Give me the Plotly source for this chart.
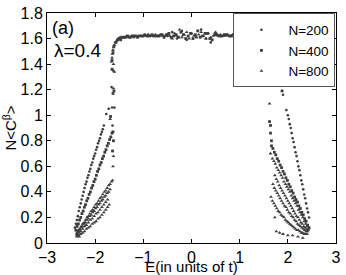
import plotly.graph_objects as go

# ---------------- data ----------------
# N=200 : dotted branches, plateau, scattered points
n200_left_E = [-2.42,-2.40,-2.38,-2.36,-2.34,-2.32,-2.30,-2.28,-2.26,-2.24,-2.22,-2.20,-2.18,-2.16,-2.14,-2.12,
               -2.10,-2.08,-2.06,-2.04,-2.02,-2.00,-1.98,-1.96,-1.94,-1.92,-1.90,-1.88,-1.86,-1.84,-1.82]
n200_left_C = [0.12,0.15,0.18,0.21,0.25,0.28,0.31,0.34,0.37,0.40,0.43,0.46,0.48,0.51,0.53,0.56,
               0.58,0.61,0.63,0.66,0.68,0.70,0.73,0.75,0.78,0.80,0.82,0.85,0.87,0.89,0.92]
n200_right_E = [1.97,2.00,2.02,2.04,2.06,2.08,2.10,2.12,2.14,2.16,2.18,2.20,2.22,2.24,2.26,2.28,2.30,2.32,
                2.34,2.36,2.38,2.40,2.42,2.44]
n200_right_C = [1.04,1.00,0.97,0.93,0.90,0.86,0.82,0.79,0.75,0.71,0.68,0.64,0.60,0.57,0.53,0.49,0.46,0.42,
                0.38,0.35,0.31,0.27,0.24,0.20]
n200_plateau_E = [-1.5,-1.4,-1.3,-1.2,-1.1,-1.0,-0.9,-0.8,-0.7,-0.6,-0.5,-0.4,-0.3,-0.2,-0.1,0.0,
                  0.1,0.2,0.3,0.4,0.5,0.6,0.7,0.8,0.9,1.0,1.1,1.2,1.3,1.4,1.5]
n200_plateau_C = [1.60,1.61,1.61,1.62,1.62,1.62,1.63,1.62,1.62,1.63,1.62,1.65,1.60,1.66,1.59,1.64,
                  1.61,1.67,1.60,1.57,1.64,1.62,1.63,1.62,1.62,1.63,1.62,1.62,1.63,1.62,1.61]
n200_stray_E = [-1.63,-1.66,-1.72,-1.77,-1.64,-1.60,1.62,1.79,1.86,1.90]
n200_stray_C = [1.35,1.22,1.05,1.01,0.92,1.06,1.33,1.31,1.23,1.16]

# N=400 : dense straight branches, plateau, knee, scattered points
n400_left_E = [-2.400,-2.375,-2.350,-2.325,-2.300,-2.275,-2.250,-2.225,-2.200,-2.175,-2.150,-2.125,-2.100,
               -2.075,-2.050,-2.025,-2.000,-1.975,-1.950,-1.925,-1.900,-1.875,-1.850,-1.825,-1.800,-1.775,
               -1.750,-1.725,-1.700,-1.675,-1.650]
n400_left_C = [0.10,0.13,0.15,0.18,0.20,0.23,0.25,0.28,0.30,0.33,0.35,0.38,0.40,0.43,0.45,0.48,0.50,0.53,
               0.56,0.58,0.61,0.63,0.66,0.68,0.71,0.73,0.76,0.78,0.81,0.83,0.86]
n400_right_E = [1.66,1.69,1.72,1.75,1.78,1.81,1.84,1.87,1.90,1.93,1.96,1.99,2.02,2.05,2.08,2.11,2.14,2.17,
                2.20,2.23,2.26,2.29,2.32,2.35,2.38,2.41,2.44]
n400_right_C = [0.76,0.74,0.71,0.69,0.66,0.64,0.61,0.59,0.56,0.54,0.51,0.49,0.46,0.44,0.41,0.39,0.36,0.34,
                0.32,0.29,0.27,0.24,0.22,0.19,0.17,0.14,0.12]
n400_plateau_E = [-1.47,-1.42,-1.37,-1.32,-1.27,-1.22,-1.17,-1.12,-1.07,-1.02,-0.97,-0.92,-0.87,-0.82,-0.77,-0.72,
                  -0.67,-0.62,-0.57,-0.52,-0.47,-0.42,-0.37,-0.32,-0.27,-0.22,-0.17,-0.12,-0.07,-0.02,0.03,
                  0.08,0.13,0.18,0.23,0.28,0.33,0.38,0.43,0.48,0.53,0.58,0.63,0.68,0.73,0.78,0.83,0.88,0.93,
                  0.98,1.03,1.08,1.13,1.18,1.23,1.28,1.33,1.38,1.43,1.48,1.53]
n400_plateau_C = [1.59,1.61,1.61,1.62,1.61,1.62,1.62,1.61,1.62,1.62,1.63,1.62,1.62,1.63,1.62,1.62,
                  1.62,1.63,1.61,1.63,1.64,1.61,1.62,1.63,1.61,1.65,1.63,1.60,1.62,1.64,1.60,
                  1.63,1.66,1.61,1.62,1.64,1.64,1.60,1.59,1.63,1.63,1.62,1.62,1.63,1.63,1.62,1.62,1.63,1.63,
                  1.62,1.62,1.63,1.62,1.62,1.63,1.62,1.62,1.63,1.63,1.62,1.62]
n400_knee_E = [-1.65,-1.63,-1.61,-1.57,-1.53,-1.49]
n400_knee_C = [1.43,1.49,1.54,1.57,1.59,1.60]
n400_stray_E = [-1.65,-1.61,-1.63,-1.68,-1.63,-1.62,-1.64,1.62,1.64,1.66,1.64,1.81,1.88]
n400_stray_C = [1.36,1.19,1.17,0.99,0.87,0.80,0.72,0.95,0.92,0.80,0.86,1.30,1.19]

# N=800 : fan of branches, plateau, knee, bottom row, scattered points
n800_l3_E = [-2.38,-2.35,-2.32,-2.29,-2.26,-2.23,-2.20,-2.17,-2.14,-2.11,-2.08,-2.05,-2.02,-1.99,-1.96,-1.93,
             -1.90,-1.87,-1.84,-1.81,-1.78,-1.75,-1.72,-1.69,-1.66,-1.64]
n800_l3_C = [0.08,0.10,0.11,0.13,0.15,0.16,0.18,0.20,0.21,0.23,0.25,0.26,0.28,0.30,0.31,0.33,
             0.35,0.36,0.38,0.40,0.41,0.43,0.45,0.46,0.48,0.49]
n800_l4_E = [-2.38,-2.35,-2.32,-2.29,-2.26,-2.23,-2.20,-2.17,-2.14,-2.11,-2.08,-2.05,-2.02,-1.99,-1.96,-1.93,
             -1.90,-1.87,-1.84,-1.81,-1.78,-1.75,-1.72,-1.69]
n800_l4_C = [0.07,0.09,0.10,0.12,0.13,0.15,0.16,0.18,0.19,0.21,0.22,0.24,0.25,0.27,0.28,0.30,
             0.31,0.33,0.34,0.36,0.37,0.39,0.40,0.42]
n800_l5_E = [-2.38,-2.34,-2.30,-2.26,-2.22,-2.18,-2.14,-2.10,-2.06,-2.02,-1.98,-1.94,-1.90,-1.86,-1.82,-1.78,-1.74]
n800_l5_C = [0.06,0.08,0.09,0.11,0.13,0.14,0.16,0.18,0.19,0.21,0.23,0.24,0.26,0.28,0.30,0.32,0.34]
n800_l6_E = [-2.38,-2.34,-2.30,-2.26,-2.22,-2.18,-2.14,-2.10,-2.06,-2.02,-1.98,-1.94,-1.90,-1.86,-1.82,-1.78,
             -1.74,-1.71]
n800_l6_C = [0.05,0.06,0.07,0.08,0.09,0.11,0.12,0.13,0.15,0.16,0.17,0.19,0.20,0.22,0.24,0.26,0.28,0.30]
n800_rb_E = [1.68,1.71,1.74,1.77,1.80,1.83,1.86,1.89,1.92,1.95,1.98,2.01,2.04,2.07,2.10,2.13,2.16,2.19,
             2.22,2.25,2.28,2.31,2.34,2.37,2.40,2.43]
n800_rb_C = [0.66,0.64,0.62,0.59,0.57,0.55,0.53,0.51,0.48,0.46,0.44,0.42,0.40,0.37,0.35,0.33,0.31,0.29,
             0.26,0.24,0.22,0.20,0.17,0.15,0.13,0.11]
n800_rc_E = [1.73,1.76,1.79,1.82,1.85,1.88,1.91,1.94,1.97,2.00,2.03,2.06,2.09,2.12,2.15,2.18,2.21,2.24,
             2.27,2.30,2.33,2.36,2.39,2.42]
n800_rc_C = [0.53,0.50,0.48,0.45,0.43,0.41,0.39,0.37,0.35,0.33,0.31,0.29,0.27,0.25,0.23,0.21,0.20,0.18,
             0.16,0.15,0.13,0.12,0.11,0.10]
n800_rd_E = [1.69,1.72,1.75,1.78,1.81,1.84,1.87,1.90,1.93,1.96,1.99,2.02,2.05,2.08,2.11,2.14,2.17,2.20,
             2.23,2.26,2.29,2.32,2.35,2.38,2.41]
n800_rd_C = [0.46,0.43,0.41,0.39,0.37,0.35,0.33,0.31,0.29,0.28,0.26,0.24,0.23,0.21,0.20,0.18,0.17,0.15,
             0.14,0.13,0.12,0.11,0.10,0.09,0.09]
n800_re_E = [1.65,1.68,1.71,1.74,1.77,1.80,1.83,1.86,1.89,1.92,1.95,1.98,2.01,2.04,2.07,2.10,2.13,2.16,
             2.19,2.22,2.25,2.28,2.31,2.34,2.37,2.40]
n800_re_C = [0.36,0.33,0.31,0.29,0.27,0.25,0.24,0.22,0.21,0.20,0.18,0.17,0.16,0.15,0.14,0.13,0.12,0.11,
             0.10,0.10,0.09,0.08,0.08,0.07,0.07,0.07]
n800_plateau_E = [-1.45,-1.40,-1.35,-1.30,-1.25,-1.20,-1.15,-1.10,-1.05,-1.00,-0.95,-0.90,-0.85,-0.80,-0.75,-0.70,
                  -0.65,-0.60,-0.55,-0.50,-0.45,-0.40,-0.35,-0.30,-0.25,-0.20,-0.15,-0.10,-0.05,0.00,0.05,
                  0.10,0.15,0.20,0.25,0.30,0.35,0.40,0.45,0.50,0.55,0.60,0.65,0.70,0.75,0.80,0.85,0.90,0.95,
                  1.00,1.05,1.10,1.15,1.20,1.25,1.30,1.35,1.40,1.45,1.50,1.55]
n800_plateau_C = [1.61,1.61,1.62,1.61,1.62,1.61,1.62,1.62,1.62,1.62,1.62,1.63,1.62,1.62,1.63,1.62,
                  1.63,1.62,1.62,1.63,1.62,1.60,1.64,1.62,1.67,1.61,1.63,1.65,1.60,1.64,1.62,
                  1.61,1.63,1.65,1.62,1.60,1.64,1.61,1.62,1.65,1.62,1.63,1.62,1.62,1.63,1.62,1.63,1.62,1.62,
                  1.63,1.62,1.62,1.63,1.62,1.62,1.63,1.62,1.62,1.63,1.62,1.62]
n800_knee_E = [-1.66,-1.65,-1.64,-1.63,-1.62,-1.60,-1.58,-1.56,-1.54,-1.52,-1.50,-1.48]
n800_knee_C = [1.42,1.45,1.48,1.51,1.53,1.55,1.57,1.58,1.59,1.60,1.605,1.61]
n800_stray_E = [-1.62,-1.60,-1.62,-1.65,-1.69,-1.62,-1.63,-2.33,1.62,1.73,1.64,
                1.76,1.83,1.90,2.00,2.10,2.21,2.31]
n800_stray_C = [1.40,1.34,1.21,1.06,0.97,0.68,0.60,0.05,1.09,0.20,0.70,
                0.09,0.08,0.07,0.06,0.06,0.05,0.04]

x_ticks = [-3, -2, -1, 0, 1, 2, 3]
y_ticks = [0, 0.2, 0.4, 0.6, 0.8, 1, 1.2, 1.4, 1.6, 1.8]
y_tick_text = ["0", "0.2", "0.4", "0.6", "0.8", "1", "1.2", "1.4", "1.6", "1.8"]

# ---------------- build series ----------------
E200 = n200_left_E + n200_right_E + n200_plateau_E + n200_stray_E
C200 = n200_left_C + n200_right_C + n200_plateau_C + n200_stray_C
E400 = n400_left_E + n400_right_E + n400_plateau_E + n400_knee_E + n400_stray_E
C400 = n400_left_C + n400_right_C + n400_plateau_C + n400_knee_C + n400_stray_C
E800 = (n800_l3_E + n800_l4_E + n800_l5_E + n800_l6_E + n800_rb_E + n800_rc_E + n800_rd_E + n800_re_E
        + n800_plateau_E + n800_knee_E + n800_stray_E)
C800 = (n800_l3_C + n800_l4_C + n800_l5_C + n800_l6_C + n800_rb_C + n800_rc_C + n800_rd_C + n800_re_C
        + n800_plateau_C + n800_knee_C + n800_stray_C)

FONT = "Liberation Sans, Arial, Helvetica, sans-serif"
MC = "#3c3c3c"

fig = go.Figure()
fig.add_trace(go.Scatter(x=E200, y=C200, mode="markers", name="N=200",
                         marker=dict(symbol="circle", size=2.6, color=MC, line=dict(width=0))))
fig.add_trace(go.Scatter(x=E400, y=C400, mode="markers", name="N=400",
                         marker=dict(symbol="square", size=2.8, color=MC, line=dict(width=0))))
fig.add_trace(go.Scatter(x=E800, y=C800, mode="markers", name="N=800",
                         marker=dict(symbol="triangle-up", size=3.4, color=MC, line=dict(width=0))))

axis_common = dict(showgrid=False, zeroline=False, showline=True, linecolor="black", linewidth=1,
                   mirror="ticks", ticks="inside", ticklen=4, tickcolor="black", automargin=False,
                   tickfont=dict(family=FONT, size=16, color="black"))

fig.update_layout(
    width=346, height=275,
    margin=dict(l=47, r=10, t=13, b=32, autoexpand=False),
    paper_bgcolor="white", plot_bgcolor="white",
    font=dict(family=FONT, size=15, color="black"),
    xaxis=dict(range=[-3, 3], tickvals=x_ticks, ticktext=[str(v).replace("-", "\u2212") for v in x_ticks],
               title=dict(text="E(in units of t)", font=dict(family=FONT, size=15), standoff=3),
               **axis_common),
    yaxis=dict(range=[0, 1.8], tickvals=y_ticks, ticktext=y_tick_text,
               title=dict(text="N&lt;C<sup>β</sup>&gt;", font=dict(family=FONT, size=15), standoff=2),
               **axis_common),
    legend=dict(x=0.998, y=0.998, xanchor="right", yanchor="top", bgcolor="white",
                bordercolor="#555", borderwidth=1, font=dict(family=FONT, size=13.5),
                tracegroupgap=0, itemwidth=44),
    showlegend=True,
)

fig.add_annotation(text="(a)", xref="paper", yref="paper", x=0.011, y=0.933, xanchor="left", yanchor="middle",
                   showarrow=False, font=dict(family=FONT, size=18, color="black"))
fig.add_annotation(text="λ=0.4", xref="paper", yref="paper", x=0.016, y=0.838, xanchor="left", yanchor="middle",
                   showarrow=False, font=dict(family=FONT, size=19, color="black"))

fig.write_html("out.html", config={"displayModeBar": False},
               post_script="document.body.style.margin='0';document.body.style.overflow='hidden';")
